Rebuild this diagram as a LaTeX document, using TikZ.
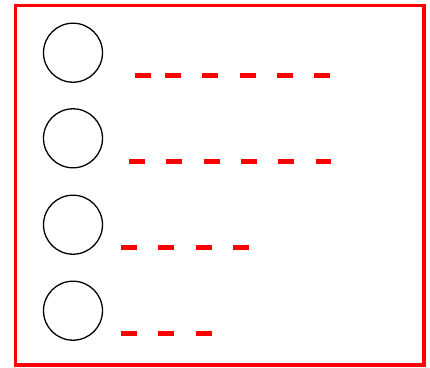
\documentclass[tikz,border=0pt]{standalone}

\begin{document}
\begin{tikzpicture}[
  x=1pt, y=-1pt,
  frame/.style={draw=red, line width=3.3pt},
  bullet/.style={draw, circle, line width=1.3pt, minimum size=59pt, inner sep=0pt},
  gapline/.style={draw=red, line width=5.3pt, dash pattern=on 16pt off 21.3pt}
]
  \useasboundingbox (0,0) rectangle (430,367);
  \draw[frame] (15.5,5.7) rectangle (424,365);

  \node[bullet] (c1) at (73,52.7) {};
  \node[bullet] (c2) at (73,138.3) {};
  \node[bullet] (c3) at (73,224.7) {};
  \node[bullet] (c4) at (73,310.7) {};

  % blanks to fill in
  \draw[gapline] (135,75.3) -- (151,75.3);
  \draw[gapline] (165,75.3) -- (330,75.3);
  \draw[gapline] (129,161.3) -- (331,161.3);
  \draw[gapline] (121,247.3) -- (249,247.3);
  \draw[gapline] (121,333.3) -- (212,333.3);
\end{tikzpicture}
\end{document}
